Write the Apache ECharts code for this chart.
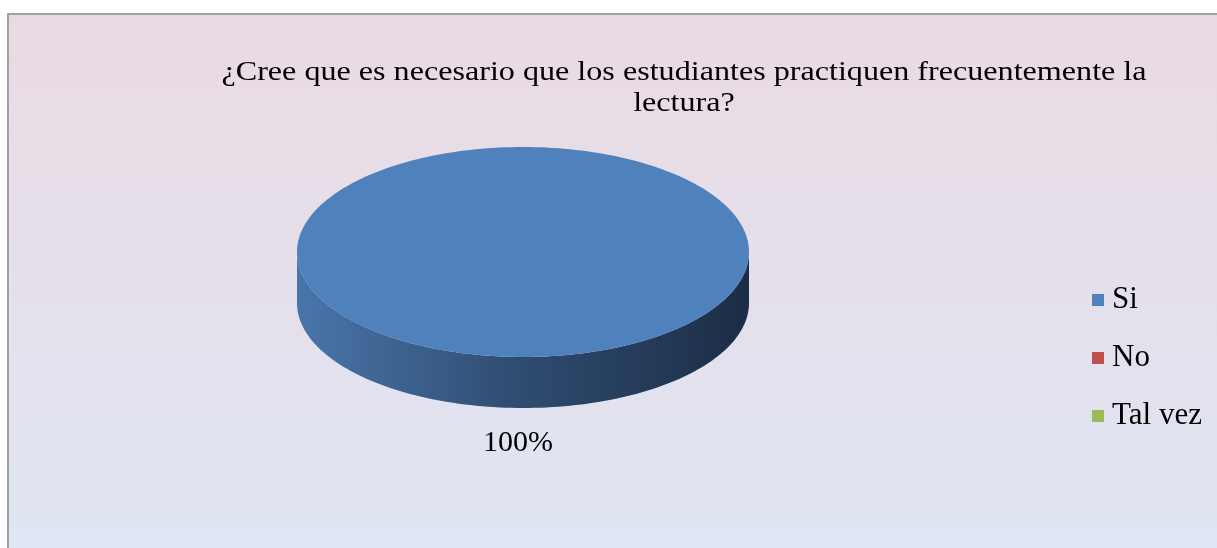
<!DOCTYPE html>
<html>
<head>
<meta charset="utf-8">
<script src="https://cdn.jsdelivr.net/npm/echarts@6/dist/echarts.min.js"></script>
<style>
html,body{margin:0;padding:0;background:#ffffff;}
#chart{width:1217px;height:548px;}
</style>
</head>
<body>
<div id="chart"></div>
<script>
const titleText = '¿Cree que es necesario que los estudiantes practiquen frecuentemente la\nlectura?';
const categories = ['Si', 'No', 'Tal vez'];
const values = [100, 0, 0];
const colors = ['#4F81BD', '#C0504D', '#9BBB59'];
const sideColors = [['#4a75aa', '#2e4b70', '#1c2d45'], ['#b04a47', '#7a3331', '#4d2020'], ['#8fae52', '#637a38', '#3e4d23']];

const total = values.reduce((a, b) => a + b, 0);
const cumStart = [];
values.reduce((acc, v, i) => { cumStart[i] = acc; return acc + v; }, 0);

const PIE = { cx: 523, cy: 252, rx: 226, ry: 105, depth: 51 };
const SERIF = '"Liberation Serif", "Times New Roman", serif';

function ellPt(t, dy) {
  return [PIE.cx + PIE.rx * Math.cos(t), PIE.cy + dy + PIE.ry * Math.sin(t)];
}

function makeRender(idx) {
  return function (params, api) {
    const v = values[idx];
    if (!v) return null;
    const a0 = -Math.PI / 2 + (cumStart[idx] / total) * Math.PI * 2;
    const a1 = -Math.PI / 2 + ((cumStart[idx] + v) / total) * Math.PI * 2;
    const children = [];
    const steps = 120;
    const ranges = [];
    const sideLo = Math.max(a0, 0), sideHi = Math.min(a1, Math.PI);
    if (sideHi > sideLo) ranges.push([sideLo, sideHi]);
    const lo2 = Math.max(a0, 2 * Math.PI), hi2 = Math.min(a1, 3 * Math.PI);
    if (hi2 > lo2) ranges.push([lo2, hi2]);
    ranges.forEach(function (r) {
      const pts = [];
      for (let k = 0; k <= steps; k++) {
        const t = r[0] + (r[1] - r[0]) * k / steps;
        pts.push(ellPt(t, 0));
      }
      for (let k = steps; k >= 0; k--) {
        const t = r[0] + (r[1] - r[0]) * k / steps;
        pts.push(ellPt(t, PIE.depth));
      }
      children.push({
        type: 'polygon',
        shape: { points: pts },
        style: {
          fill: new echarts.graphic.LinearGradient(0, 0, 1, 0, [
            { offset: 0, color: sideColors[idx][0] },
            { offset: 0.5, color: sideColors[idx][1] },
            { offset: 1, color: sideColors[idx][2] }
          ])
        }
      });
    });
    const top = [];
    const full = (a1 - a0) >= Math.PI * 2 - 1e-9;
    if (!full) top.push([PIE.cx, PIE.cy]);
    const n = 240;
    for (let k = 0; k <= n; k++) {
      const t = a0 + (a1 - a0) * k / n;
      top.push(ellPt(t, 0));
    }
    children.push({
      type: 'polygon',
      shape: { points: top },
      style: { fill: colors[idx] }
    });
    const mid = (a0 + a1) / 2;
    const lp = ellPt(mid, PIE.depth);
    children.push({
      type: 'text',
      x: lp[0] - 5 + Math.cos(mid) * 20,
      y: lp[1] + Math.sin(mid) * 35,
      style: {
        text: Math.round(v / total * 100) + '%',
        fill: '#000',
        font: '30px ' + SERIF,
        align: 'center',
        verticalAlign: 'middle'
      }
    });
    return { type: 'group', children: children };
  };
}

const series = categories.map(function (name, i) {
  return {
    type: 'custom',
    name: name,
    coordinateSystem: 'none',
    color: colors[i],
    data: [values[i]],
    renderItem: makeRender(i),
    silent: true
  };
});

const chart = echarts.init(document.getElementById('chart'), null, { renderer: 'canvas' });
chart.setOption({
  animation: false,
  graphic: [{
    type: 'rect',
    z: -10,
    shape: { x: 8, y: 14, width: 1230, height: 560 },
    style: {
      fill: new echarts.graphic.LinearGradient(0, 0, 0, 1, [
        { offset: 0, color: '#eadae3' },
        { offset: 1, color: '#dfe6f4' }
      ]),
      stroke: '#a0a0a0',
      lineWidth: 2
    },
    silent: true
  }, {
    type: 'text',
    x: 684,
    y: 88,
    scaleX: 1.19,
    z: 10,
    style: {
      text: titleText,
      fill: '#000',
      font: '27px ' + SERIF,
      lineHeight: 31,
      align: 'center',
      verticalAlign: 'middle'
    },
    silent: true
  }],
  legend: {
    orient: 'vertical',
    left: 1087,
    top: 279,
    icon: 'rect',
    itemWidth: 12,
    itemHeight: 12,
    itemGap: 26,
    data: categories,
    selectedMode: false,
    textStyle: {
      fontFamily: SERIF,
      fontSize: 31,
      color: '#000',
      lineHeight: 32,
      padding: [0, 0, 0, 3]
    }
  },
  series: series
});
</script>
</body>
</html>
